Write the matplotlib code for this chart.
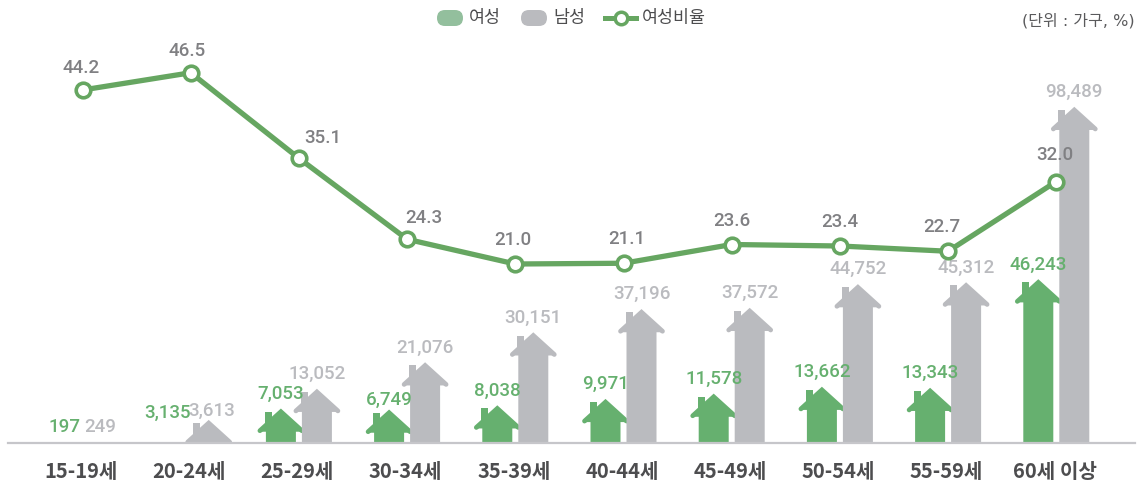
import matplotlib
matplotlib.use('Agg')
import matplotlib.pyplot as plt
from matplotlib.patches import Polygon, Rectangle, FancyBboxPatch

plt.rcParams['font.family'] = ['Roboto', 'Noto Sans CJK KR', 'DejaVu Sans']

ages = ['15-19세', '20-24세', '25-29세', '30-34세', '35-39세', '40-44세', '45-49세', '50-54세', '55-59세', '60세 이상']
women = [197, 3135, 7053, 6749, 8038, 9971, 11578, 13662, 13343, 46243]
men = [249, 3613, 13052, 21076, 30151, 37196, 37572, 44752, 45312, 98489]
ratio = [44.2, 46.5, 35.1, 24.3, 21.0, 21.1, 23.6, 23.4, 22.7, 32.0]

GREEN = '#66b06f'
GREY = '#babbbf'
LINE = '#66a661'
TEXT = '#4d4d4f'
KR = ['Noto Sans CJK KR', 'DejaVu Sans']

W, H = 1140, 482
dpi = 100
fig = plt.figure(figsize=(W/dpi, H/dpi), dpi=dpi)

# scales: one category = 108.2 px, one household = 0.0033 px, one % = 7.5 px
xpx = 108.2
ypx = 0.0033
rpx = 7.5
base_y = 443

ax = fig.add_axes([0, 0, 1, 1])
ax.set_xlim(-82.5/xpx, (W-82.5)/xpx)
ax.set_ylim(-(H-base_y)/ypx, base_y/ypx)
ax.axis('off')

ax2 = ax.twinx()
ax2.set_ylim(21-(H-264)/rpx, 21+264/rpx)
ax2.axis('off')

def px_x(p):
    return p/xpx

def px_y(p):
    return p/ypx

def house(x, v, color):
    # the roof sits 9 px above the value, small houses sink into the base line
    top = v + px_y(9)
    eave = top - px_y(21)
    clip = Rectangle((-10, 0), 40, top*2, transform=ax.transData)
    pts = [(x-px_x(15), 0), (x-px_x(15), max(eave, 0)), (x-px_x(22), eave), (x, top),
           (x+px_x(22), eave), (x+px_x(15), max(eave, 0)), (x+px_x(15), 0)]
    body = Polygon(pts, closed=True, fc=color, ec='none', zorder=2)
    ax.add_patch(body)
    body.set_clip_path(clip)
    chim = Rectangle((x-px_x(16), top-px_y(15)), px_x(7), px_y(14), fc=color, ec='none', zorder=2)
    ax.add_patch(chim)
    chim.set_clip_path(clip)
    roof, = ax.plot([x-px_x(21), x, x+px_x(21)], [eave+px_y(1), top-px_y(1), eave+px_y(1)], color=color,
                    lw=3.4, solid_capstyle='round', solid_joinstyle='miter', zorder=2)
    roof.set_clip_path(clip)

def label(a, x, y, txt, dx, dy, color, size=13.5, weight='medium', z=6, fam=None):
    # dx, dy in pixels, dy up
    a.annotate(txt, (x, y), xytext=(dx*72/dpi, dy*72/dpi), textcoords='offset points', color=color,
               fontsize=size, fontweight=weight, ha='center', va='center', zorder=z, family=fam)

for i in range(len(ages)):
    if women[i] > 3500:
        house(i-px_x(18), women[i], GREEN)
    if men[i] > 3500:
        house(i+px_x(18), men[i], GREY)

ax.axhline(0, xmin=8/W, xmax=1135/W, color='#c6c6ca', lw=1.6, zorder=3)
ax2.plot(range(len(ratio)), ratio, color=LINE, lw=3.8, zorder=4, marker='o', ms=10.5, mfc='white', mec=LINE, mew=2.6)

# labels, the small ones do not follow the roof rule
for i in range(len(ages)):
    if i == 0:
        wy, my = (-18, 15), (18, 15)
    elif i == 1:
        wy, my = (-23, 20), (21, 20)
    elif i == 3:
        wy, my = (-18, 21), (18, 26)
    else:
        wy, my = (-18, 26), (18, 26)
    label(ax, i, women[i], f'{women[i]:,}', wy[0], wy[1], GREEN)
    label(ax, i, men[i], f'{men[i]:,}', my[0], my[1], GREY)

# ratio labels mostly centred above the point
shift = {0: (-1, 22), 1: (-4, 22), 2: (24, 20), 3: (17, 21), 4: (-2, 24), 5: (3, 24), 8: (-6, 24), 9: (-1, 27)}
for i in range(len(ratio)):
    dx, dy = shift.get(i, (0, 24))
    label(ax2, i, ratio[i], f'{ratio[i]:.1f}', dx, dy, '#808083', size=13.5, z=7)

for i in range(len(ages)):
    ax.annotate(ages[i], (i, 0), xytext=(-1.5*72/dpi, -28*72/dpi), textcoords='offset points', color=TEXT,
                fontsize=14.5, fontweight='bold', ha='center', va='center', family=KR)

# legend and unit note in figure pixels
leg = fig.add_axes([0, 0, 1, 1])
leg.set_xlim(0, W)
leg.set_ylim(H, 0)
leg.axis('off')
leg.patch.set_alpha(0)
for x, c in ((437, '#93bf9d'), (521, GREY)):
    leg.add_patch(FancyBboxPatch((x, 10), 26, 16, boxstyle='round,pad=0,rounding_size=8', fc=c, ec='none'))
leg.plot([605, 636], [18, 18], color=LINE, lw=3.6)
leg.plot([621], [18], marker='o', ms=9, mfc='white', mec=LINE, mew=2.5)
leg.text(469, 18, '여성', color=TEXT, fontsize=12.5, va='center', family=KR)
leg.text(553, 18, '남성', color=TEXT, fontsize=12.5, va='center', family=KR)
leg.text(642, 18, '여성비율', color=TEXT, fontsize=12.5, va='center', family=KR)
leg.text(1135, 21, '(단위 : 가구, %)', color='#5a5a5c', fontsize=11.5, ha='right', va='center',
         family=['DejaVu Sans', 'Noto Sans CJK KR'])

fig.savefig('out.png', dpi=dpi)
